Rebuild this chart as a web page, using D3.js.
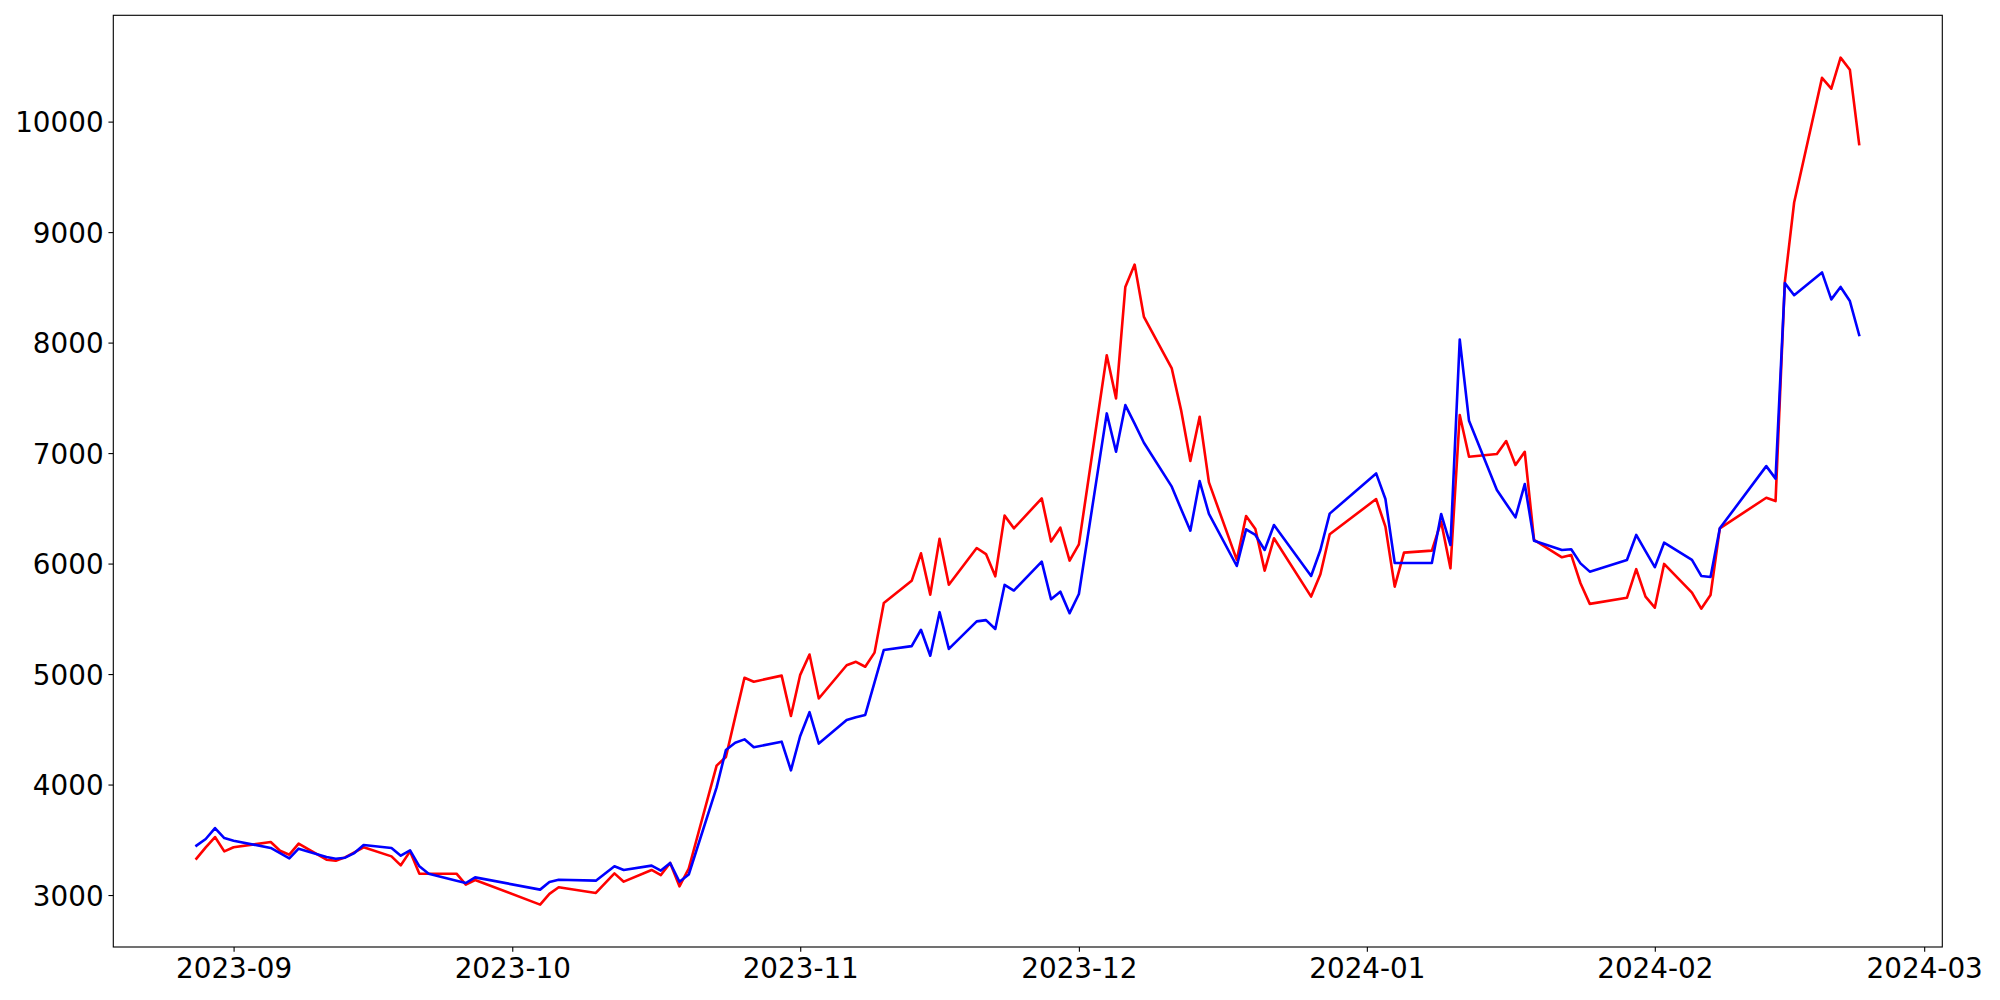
<!DOCTYPE html>
<html>
<head>
<meta charset="utf-8">
<script src="https://cdn.jsdelivr.net/npm/d3@7"></script>
<style>
  html, body { margin: 0; padding: 0; background: #fff; }
  svg { display: block; }
</style>
</head>
<body>
<svg id="chart" width="2000" height="1000"></svg>
<script>
const dates = [
  "2023-08-28","2023-08-29","2023-08-30","2023-08-31","2023-09-01",
  "2023-09-05","2023-09-06","2023-09-07","2023-09-08",
  "2023-09-11","2023-09-12","2023-09-13","2023-09-14","2023-09-15",
  "2023-09-18","2023-09-19","2023-09-20","2023-09-21","2023-09-22",
  "2023-09-25","2023-09-26","2023-09-27",
  "2023-10-04","2023-10-05","2023-10-06",
  "2023-10-10","2023-10-12","2023-10-13",
  "2023-10-16","2023-10-17","2023-10-18","2023-10-19","2023-10-20",
  "2023-10-23","2023-10-24","2023-10-25","2023-10-26","2023-10-27",
  "2023-10-30","2023-10-31","2023-11-01","2023-11-02","2023-11-03",
  "2023-11-06","2023-11-07","2023-11-08","2023-11-09","2023-11-10",
  "2023-11-13","2023-11-14","2023-11-15","2023-11-16","2023-11-17",
  "2023-11-20","2023-11-21","2023-11-22","2023-11-23","2023-11-24",
  "2023-11-27","2023-11-28","2023-11-29","2023-11-30","2023-12-01",
  "2023-12-04","2023-12-05","2023-12-06","2023-12-07","2023-12-08",
  "2023-12-11","2023-12-12","2023-12-13","2023-12-14","2023-12-15",
  "2023-12-18","2023-12-19","2023-12-20","2023-12-21","2023-12-22",
  "2023-12-26","2023-12-27","2023-12-28",
  "2024-01-02","2024-01-03","2024-01-04","2024-01-05",
  "2024-01-08","2024-01-09","2024-01-10","2024-01-11","2024-01-12",
  "2024-01-15","2024-01-16","2024-01-17","2024-01-18","2024-01-19",
  "2024-01-22","2024-01-23","2024-01-24","2024-01-25",
  "2024-01-29","2024-01-30","2024-01-31","2024-02-01","2024-02-02",
  "2024-02-05","2024-02-06","2024-02-07","2024-02-08",
  "2024-02-13","2024-02-14","2024-02-15","2024-02-16",
  "2024-02-19","2024-02-20","2024-02-21","2024-02-22","2024-02-23"
];

const redValues = [
  3329,3432,3525,3395,3432,
  3480,3401,3365,3465,
  3320,3311,3341,3386,3432,
  3350,3269,3395,3193,3193,
  3193,3094,3136,
  2913,3010,3070,
  3019,3196,3121,
  3227,3181,3290,3079,3240,
  4171,4250,4610,4966,4931,
  4986,4620,4993,5177,4779,
  5080,5111,5066,5194,5643,
  5844,6093,5719,6224,5809,
  6141,6086,5885,6434,6319,
  6590,6199,6325,6027,6174,
  7886,7495,8504,8706,8233,
  7766,7389,6928,7329,6735,
  6033,6431,6313,5936,6229,
  5701,5903,6265,
  6584,6334,5791,6099,
  6117,6379,5957,7344,6967,
  6991,7109,6892,7012,6214,
  6057,6078,5822,5635,
  5690,5949,5701,5601,5997,
  5737,5592,5716,6319,
  6596,6566,8549,9268,
  10396,10298,10579,10470,9796
];

const blueValues = [
  3447,3507,3606,3516,3492,
  3426,3380,3332,3420,
  3344,3329,3338,3380,3453,
  3426,3356,3404,3260,3193,
  3130,3109,3160,
  3049,3118,3139,
  3130,3260,3227,
  3266,3221,3290,3120,3186,
  3974,4313,4378,4409,4337,
  4388,4129,4440,4655,4371,
  4585,4610,4630,4924,5218,
  5253,5401,5166,5560,5228,
  5477,5488,5408,5807,5756,
  6018,5677,5746,5551,5725,
  7359,7012,7434,7266,7094,
  6696,6494,6298,6747,6449,
  5978,6310,6259,6123,6349,
  5888,6123,6452,
  6816,6584,6005,6005,
  6005,6449,6168,8028,7292,
  6666,6542,6418,6720,6207,
  6123,6129,6002,5927,
  6033,6259,6113,5967,6189,
  6033,5888,5879,6319,
  6882,6769,8538,8429,
  8635,8391,8504,8376,8069
];

const xTickDates = ["2023-09-01","2023-10-01","2023-11-01","2023-12-01","2024-01-01","2024-02-01","2024-03-01"];
const xTickLabels = ["2023-09","2023-10","2023-11","2023-12","2024-01","2024-02","2024-03"];
const yTickValues = [3000,4000,5000,6000,7000,8000,9000,10000];

// ---- layout ----
const plot = { left: 113.3, top: 15.3, right: 1942.3, bottom: 947 };
const fontSize = 27.8;
const tickLen = 4.86, tickPad = 4.86;
const lineWidth = 2.6;

const parse = d3.utcParse("%Y-%m-%d");
const t = dates.map(parse);

// matplotlib-like 5% margins
const tMin = d3.min(t), tMax = d3.max(t);
const tSpan = tMax - tMin;
const allVals = redValues.concat(blueValues);
const vMin = d3.min(allVals), vMax = d3.max(allVals);
const vSpan = vMax - vMin;

const x = d3.scaleUtc()
  .domain([new Date(+tMin - 0.05 * tSpan), new Date(+tMax + 0.05 * tSpan)])
  .range([plot.left, plot.right]);
const y = d3.scaleLinear()
  .domain([vMin - 0.05 * vSpan, vMax + 0.05 * vSpan])
  .range([plot.bottom, plot.top]);

const svg = d3.select("#chart");

svg.append("defs").append("clipPath").attr("id", "clip")
  .append("rect").attr("x", plot.left).attr("y", plot.top)
  .attr("width", plot.right - plot.left).attr("height", plot.bottom - plot.top);

// lines (red first, blue on top)
const line = d3.line().x(d => x(d[0])).y(d => y(d[1]));
const redPts = t.map((d, i) => [d, redValues[i]]);
const bluePts = t.map((d, i) => [d, blueValues[i]]);

const g = svg.append("g").attr("clip-path", "url(#clip)");
g.append("path").datum(redPts)
  .attr("d", line).attr("fill", "none").attr("stroke", "#ff0000")
  .attr("stroke-width", lineWidth).attr("stroke-linejoin", "round").attr("stroke-linecap", "square");
g.append("path").datum(bluePts)
  .attr("d", line).attr("fill", "none").attr("stroke", "#0000ff")
  .attr("stroke-width", lineWidth).attr("stroke-linejoin", "round").attr("stroke-linecap", "square");

// axes using d3 axis generators
const xAxis = d3.axisBottom(x)
  .tickValues(xTickDates.map(parse))
  .tickFormat((d, i) => xTickLabels[i])
  .tickSizeInner(tickLen).tickSizeOuter(0).tickPadding(tickPad);
const yAxis = d3.axisLeft(y)
  .tickValues(yTickValues)
  .tickFormat(d3.format("d"))
  .tickSizeInner(tickLen).tickSizeOuter(0).tickPadding(tickPad);

const gx = svg.append("g").attr("transform", `translate(0,${plot.bottom})`).call(xAxis);
const gy = svg.append("g").attr("transform", `translate(${plot.left},0)`).call(yAxis);

[gx, gy].forEach(ax => {
  ax.select(".domain").remove();
  ax.selectAll(".tick line").attr("stroke", "#000").attr("stroke-width", 1.11);
  ax.selectAll(".tick text")
    .attr("fill", "#000")
    .style("font-family", "'DejaVu Sans', sans-serif")
    .style("font-size", fontSize + "px");
});
gx.selectAll(".tick text").attr("dy", "0.76em");
gy.selectAll(".tick text").attr("dy", "0.36em");

// spines
svg.append("rect")
  .attr("x", plot.left).attr("y", plot.top)
  .attr("width", plot.right - plot.left).attr("height", plot.bottom - plot.top)
  .attr("fill", "none").attr("stroke", "#000").attr("stroke-width", 1.11);
</script>
</body>
</html>
